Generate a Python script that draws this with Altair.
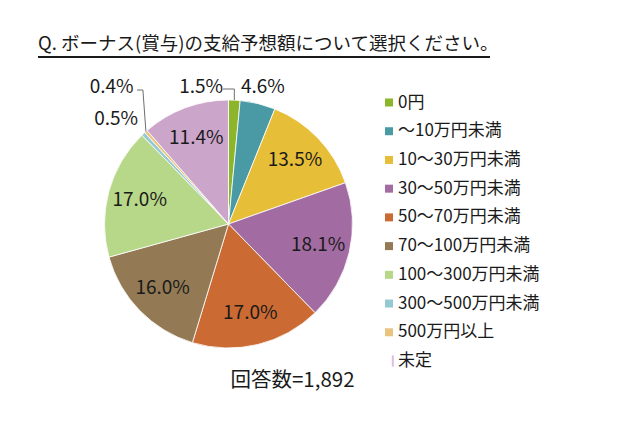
import altair as alt
import pandas as pd

categories = ["0円", "～10万円未満", "10～30万円未満", "30～50万円未満", "50～70万円未満",
              "70～100万円未満", "100～300万円未満", "300～500万円未満", "500万円以上", "未定"]
values = [1.5, 4.6, 13.5, 18.1, 17.0, 16.0, 17.0, 0.5, 0.4, 11.4]
colors = ["#8DB52A", "#4A9AA6", "#E7BE38", "#A26CA2", "#CB6A33", "#937A55",
          "#B7D789", "#94C9D2", "#EAC37E", "#CCA5CB"]
legend_marker_colors = colors[:-1] + ["#DDBEDD"]
title_text = "Q. ボーナス(賞与)の支給予想額について選択ください。"
note_text = "回答数=1,892"

FONT = "Noto Sans CJK JP"
CX, CY, R = 228.5, 224.0, 124.0
R_IN = 92.0
LABEL_SIZE = 19

df = pd.DataFrame({
    "cat": categories,
    "value": values,
    "idx": list(range(len(categories))),
    "label": [f"{v:.1f}%" for v in values],
})

color_scale = alt.Scale(domain=categories, range=colors)

base = (
    alt.Chart(df)
    .transform_joinaggregate(total="sum(value)")
    .transform_window(cum="sum(value)", sort=[alt.SortField("idx")], frame=[None, 0])
    .transform_calculate(mid="(datum.cum - datum.value/2)/datum.total*2*PI")
    .transform_calculate(
        ex=f"{CX} + {R}*sin(datum.mid)",
        ey=f"{CY} - {R}*cos(datum.mid)",
    )
)

pie = alt.Chart(df).mark_arc(radius=R, stroke="white", strokeWidth=0.8).encode(
    theta=alt.Theta("value:Q", stack=True),
    color=alt.Color("cat:N", scale=color_scale, legend=None),
    order=alt.Order("idx:Q"),
    x=alt.value(CX),
    y=alt.value(CY),
)

inner = (
    base.transform_filter("datum.value >= 5")
    .transform_calculate(
        px=f"{CX} + {R_IN}*sin(datum.mid)",
        py=f"{CY} - {R_IN}*cos(datum.mid)",
    )
    .mark_text(font=FONT, fontSize=LABEL_SIZE, color="#1A1A1A", align="center", baseline="middle")
    .encode(x=alt.X("px:Q", scale=None), y=alt.Y("py:Q", scale=None), text="label:N")
)


def outer(cat, r, dx, dy):
    return (
        base.transform_filter(alt.datum.cat == cat)
        .transform_calculate(
            px=f"{CX} + {r}*sin(datum.mid)",
            py=f"{CY} - {r}*cos(datum.mid)",
        )
        .mark_text(font=FONT, fontSize=LABEL_SIZE, color="#1A1A1A", align="center",
                   baseline="middle", dx=dx, dy=dy)
        .encode(x=alt.X("px:Q", scale=None), y=alt.Y("py:Q", scale=None), text="label:N")
    )


outer_labels = [
    outer(categories[0], 140, -34, 3),
    outer(categories[1], 141, 1, 0),
    outer(categories[8], 180, 3, -3),
    outer(categories[7], 153.5, -7, 7),
]

LEADER = "#6E6E6E"
# leader for 0円
lead1a = base.transform_filter(alt.datum.cat == categories[0]).mark_rule(
    color=LEADER, strokeWidth=1).encode(
    x=alt.X("ex:Q", scale=None), y=alt.Y("ey:Q", scale=None), y2=alt.value(89))
lead1b = base.transform_filter(alt.datum.cat == categories[0]).mark_rule(
    color=LEADER, strokeWidth=1).encode(
    x=alt.X("ex:Q", scale=None), x2=alt.value(223), y=alt.value(89))
# leader for 500万円以上
lead2a = (base.transform_filter(alt.datum.cat == categories[8])
          .transform_calculate(ex2="datum.ex - 3")
          .mark_rule(color=LEADER, strokeWidth=1)
          .encode(x=alt.X("ex:Q", scale=None), y=alt.Y("ey:Q", scale=None),
                  x2="ex2:Q", y2=alt.value(90)))
lead2b = (base.transform_filter(alt.datum.cat == categories[8])
          .transform_calculate(ex2="datum.ex - 3")
          .mark_rule(color=LEADER, strokeWidth=1)
          .encode(x=alt.X("ex2:Q", scale=None), x2=alt.value(137), y=alt.value(90)))

leg_y = alt.Y("cat:N", sort=categories, axis=None,
              scale=alt.Scale(type="point", range=[102.5, 361], padding=0))
shape_scale = alt.Scale(domain=categories,
                        range=["square"] * 9 + ["M0.7,-1.4H1.2V1.4H0.7Z"])
leg_pts = alt.Chart(df).mark_point(filled=True, opacity=1, size=64, strokeWidth=0).encode(
    x=alt.value(389),
    y=leg_y,
    color=alt.Color("cat:N", scale=alt.Scale(domain=categories, range=legend_marker_colors), legend=None),
    shape=alt.Shape("cat:N", scale=shape_scale, legend=None),
)
leg_txt = alt.Chart(df).mark_text(font=FONT, fontSize=17, color="#1A1A1A", align="left",
                                  baseline="middle").encode(
    x=alt.value(398), y=leg_y, text="cat:N")

title = alt.Chart(pd.DataFrame({"t": [title_text]})).mark_text(
    font=FONT, fontSize=18.5, color="#1A1A1A", align="left", baseline="alphabetic").encode(
    x=alt.value(38), y=alt.value(50), text="t:N")
underline = alt.Chart(pd.DataFrame({"a": [0]})).mark_rule(color="#1A1A1A", strokeWidth=2).encode(
    x=alt.value(38), x2=alt.value(490), y=alt.value(57))
note = alt.Chart(pd.DataFrame({"t": [note_text]})).mark_text(
    font=FONT, fontSize=20.5, color="#1A1A1A", align="center", baseline="middle").encode(
    x=alt.value(292.5), y=alt.value(381), text="t:N")

chart = (
    alt.layer(pie, inner, *outer_labels, lead1a, lead1b, lead2a, lead2b,
              leg_pts, leg_txt, title, underline, note)
    .resolve_scale(x="independent", y="independent", color="independent")
    .properties(width=640, height=441, padding=0, autosize=alt.AutoSizeParams(type="none"),
                background="white")
    .configure_view(stroke=None)
)

chart.save("out.html", embed_options={"renderer": "svg", "actions": False})
